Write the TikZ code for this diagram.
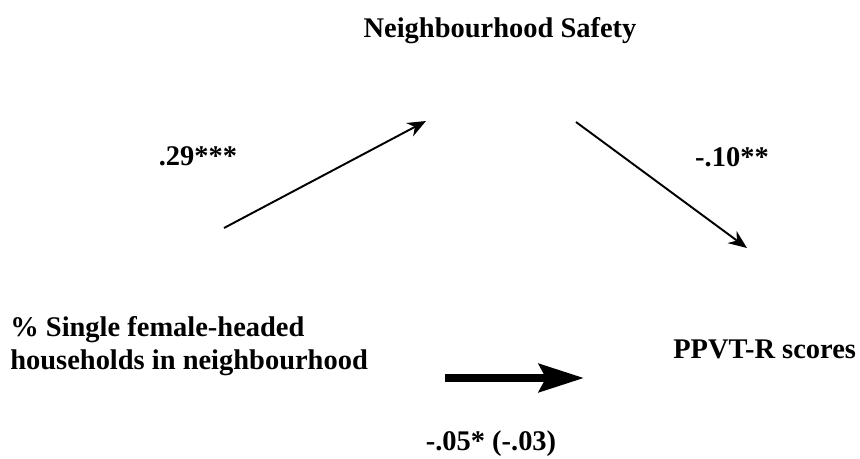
\documentclass[tikz,border=0pt]{standalone}
\usepackage{fontspec}
\setmainfont{Liberation Serif}
\usetikzlibrary{arrows.meta}

\begin{document}
\begin{tikzpicture}[
  x=0.02cm, y=-0.02cm,
  font=\fontsize{16.2pt}{18.8pt}\selectfont\bfseries,
  var/.style={inner sep=0pt, align=left},
  coef/.style={inner sep=0pt, anchor=base},
  medarrow/.style={-{Stealth[length=3.7mm, width=3mm, inset=1.2mm]}, line width=1.1pt},
  directarrow/.style={-{Stealth[length=9mm, width=5.6mm, inset=1.4mm]}, line width=4.6pt}
]
\useasboundingbox (0,0) rectangle (860,458);

% Variables of the mediation model
\node[var, anchor=north west] (pct) at (10,316)
  {\% Single female-headed\\households in neighbourhood};
\node[var, anchor=base] (safety) at (500,37) {Neighbourhood Safety};
\node[var, anchor=base west] (ppvt) at (673,358) {PPVT-R scores};

% Path coefficients
\node[coef] (apath) at (198,165) {.29***};
\node[coef] (bpath) at (732,166) {-.10**};
\node[coef] (cpath) at (491,450) {-.05* (-.03)};

% Free ends of the arrows
\coordinate (atail) at (224,228);
\coordinate (ahead) at (426,121);
\coordinate (btail) at (576,122);
\coordinate (bhead) at (747,248);
\coordinate (ctail) at (445,378);
\coordinate (chead) at (584,378);

% Indirect path through safety, then the direct path
\draw[medarrow] (atail) -- (ahead);
\draw[medarrow] (btail) -- (bhead);
\draw[directarrow] (ctail) -- (chead);

\end{tikzpicture}
\end{document}
